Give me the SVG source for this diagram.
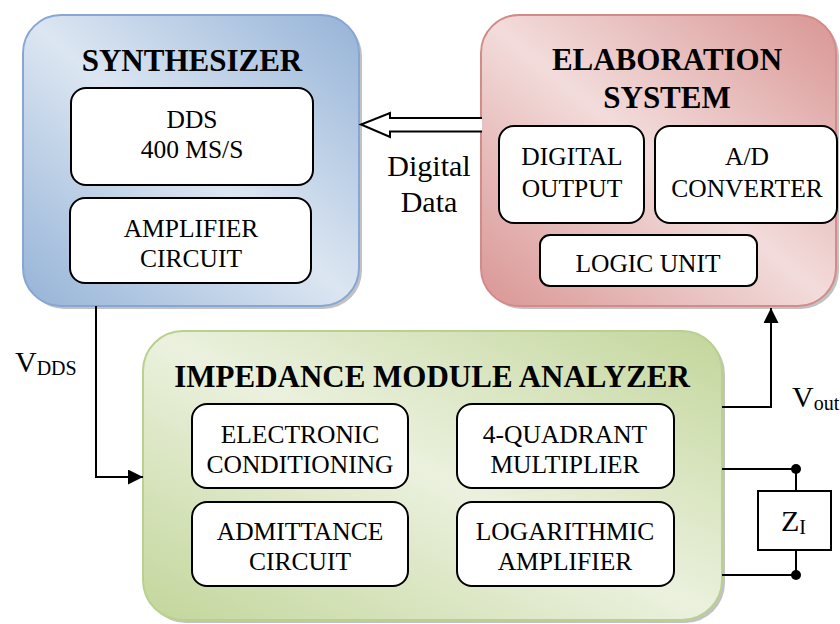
<svg xmlns="http://www.w3.org/2000/svg" width="840" height="624" viewBox="0 0 840 624">
<defs>
  <linearGradient id="gBlue" x1="1" y1="0" x2="0" y2="1">
    <stop offset="0" stop-color="#95b3d7"/>
    <stop offset="0.5" stop-color="#dce6f2"/>
    <stop offset="1" stop-color="#95b3d7"/>
  </linearGradient>
  <linearGradient id="gRed" x1="1" y1="0" x2="0" y2="1">
    <stop offset="0" stop-color="#d99694"/>
    <stop offset="0.5" stop-color="#f2dcdb"/>
    <stop offset="1" stop-color="#d99694"/>
  </linearGradient>
  <linearGradient id="gGreen" x1="1" y1="0" x2="0" y2="1">
    <stop offset="0" stop-color="#c3d69b"/>
    <stop offset="0.5" stop-color="#ebf1de"/>
    <stop offset="1" stop-color="#c3d69b"/>
  </linearGradient>
  <marker id="ah" viewBox="0 0 15 15" refX="15" refY="7.5" markerWidth="15" markerHeight="15" markerUnits="userSpaceOnUse" orient="auto">
    <path d="M0,0 L15,7.5 L0,15 Z" fill="#000"/>
  </marker>
</defs>

<g id="synthesizer">
  <rect x="26" y="18" width="336" height="291" rx="38" fill="#9a9a9a" opacity="0.6"/>
  <rect x="23" y="15" width="336" height="291" rx="38" fill="url(#gBlue)" stroke="#88a6d3" stroke-width="2"/>
  <text x="192" y="71" style="font-family:'Liberation Serif',serif;font-size:31px;font-weight:bold" text-anchor="middle">SYNTHESIZER</text>
  <rect x="71" y="88" width="242" height="97" rx="15" fill="#fff" stroke="#000" stroke-width="2"/>
  <rect x="70" y="198" width="241" height="85" rx="15" fill="#fff" stroke="#000" stroke-width="2"/>
  <text x="192" y="128" style="font-family:'Liberation Serif',serif;font-size:25.5px" text-anchor="middle">DDS</text>
  <text x="192" y="158" style="font-family:'Liberation Serif',serif;font-size:25.5px" text-anchor="middle">400 MS/S</text>
  <text x="191" y="237" style="font-family:'Liberation Serif',serif;font-size:25.5px" text-anchor="middle">AMPLIFIER</text>
  <text x="191" y="267" style="font-family:'Liberation Serif',serif;font-size:25.5px" text-anchor="middle">CIRCUIT</text>
</g>

<g id="elaboration-system">
  <rect x="484" y="18" width="355" height="291" rx="38" fill="#9a9a9a" opacity="0.6"/>
  <rect x="481" y="15" width="355" height="291" rx="38" fill="url(#gRed)" stroke="#d38b89" stroke-width="2"/>
  <text x="667" y="70" style="font-family:'Liberation Serif',serif;font-size:31px;font-weight:bold" text-anchor="middle">ELABORATION</text>
  <text x="667" y="108" style="font-family:'Liberation Serif',serif;font-size:31px;font-weight:bold" text-anchor="middle">SYSTEM</text>
  <rect x="499" y="126" width="145" height="97" rx="15" fill="#fff" stroke="#000" stroke-width="2"/>
  <rect x="655" y="126" width="182" height="97" rx="15" fill="#fff" stroke="#000" stroke-width="2"/>
  <rect x="540" y="235" width="217" height="51" rx="10" fill="#fff" stroke="#000" stroke-width="2"/>
  <text x="572" y="165" style="font-family:'Liberation Serif',serif;font-size:25.5px" text-anchor="middle">DIGITAL</text>
  <text x="572" y="197" style="font-family:'Liberation Serif',serif;font-size:25.5px" text-anchor="middle">OUTPUT</text>
  <text x="747" y="165" style="font-family:'Liberation Serif',serif;font-size:25.5px" text-anchor="middle">A/D</text>
  <text x="747" y="197" style="font-family:'Liberation Serif',serif;font-size:25.5px" text-anchor="middle">CONVERTER</text>
  <text x="648" y="272" style="font-family:'Liberation Serif',serif;font-size:25.5px" text-anchor="middle">LOGIC UNIT</text>
</g>

<g id="impedance-module-analyzer">
  <rect x="146" y="334" width="579" height="289" rx="40" fill="#9a9a9a" opacity="0.6"/>
  <rect x="143" y="331" width="579" height="289" rx="40" fill="url(#gGreen)" stroke="#b9d08f" stroke-width="2"/>
  <text x="432" y="387" style="font-family:'Liberation Serif',serif;font-size:31px;font-weight:bold" text-anchor="middle">IMPEDANCE MODULE ANALYZER</text>
  <rect x="192" y="404" width="216" height="84" rx="15" fill="#fff" stroke="#000" stroke-width="2"/>
  <rect x="192" y="502" width="216" height="84" rx="15" fill="#fff" stroke="#000" stroke-width="2"/>
  <rect x="457" y="404" width="217" height="84" rx="15" fill="#fff" stroke="#000" stroke-width="2"/>
  <rect x="457" y="502" width="217" height="84" rx="15" fill="#fff" stroke="#000" stroke-width="2"/>
  <text x="300" y="443" style="font-family:'Liberation Serif',serif;font-size:25.5px" text-anchor="middle">ELECTRONIC</text>
  <text x="300" y="473" style="font-family:'Liberation Serif',serif;font-size:25.5px" text-anchor="middle">CONDITIONING</text>
  <text x="300" y="540" style="font-family:'Liberation Serif',serif;font-size:25.5px" text-anchor="middle">ADMITTANCE</text>
  <text x="300" y="570" style="font-family:'Liberation Serif',serif;font-size:25.5px" text-anchor="middle">CIRCUIT</text>
  <text x="565" y="443" style="font-family:'Liberation Serif',serif;font-size:25.5px" text-anchor="middle">4-QUADRANT</text>
  <text x="565" y="473" style="font-family:'Liberation Serif',serif;font-size:25.5px" text-anchor="middle">MULTIPLIER</text>
  <text x="565" y="540" style="font-family:'Liberation Serif',serif;font-size:25.5px" text-anchor="middle">LOGARITHMIC</text>
  <text x="565" y="570" style="font-family:'Liberation Serif',serif;font-size:25.5px" text-anchor="middle">AMPLIFIER</text>
</g>

<g id="impedance-zi">
  <rect x="758" y="491" width="73" height="59" fill="#fff" stroke="#000" stroke-width="2"/>
  <text x="781" y="531" style="font-family:'Liberation Serif',serif;font-size:30px">Z<tspan style="font-size:20px" dy="3">I</tspan></text>
</g>

<g id="connectors">
  <path d="M482,118 L390,118 L390,113 L361,124.5 L390,137 L390,131.5 L482,131.5" fill="#fff" stroke="#000" stroke-width="2"/>
  <path d="M96,306 L96,477 L143,477" fill="none" stroke="#000" stroke-width="2" marker-end="url(#ah)"/>
  <path d="M722,407 L771,407 L771,308" fill="none" stroke="#000" stroke-width="2" marker-end="url(#ah)"/>
  <path d="M722,469 L796,469 L796,491" fill="none" stroke="#000" stroke-width="2"/>
  <path d="M722,575 L796,575 L796,550" fill="none" stroke="#000" stroke-width="2"/>
  <circle cx="796" cy="469" r="5" fill="#000"/>
  <circle cx="796" cy="575" r="5" fill="#000"/>
  <text x="429" y="176" style="font-family:'Liberation Serif',serif;font-size:30px" text-anchor="middle">Digital</text>
  <text x="429" y="212" style="font-family:'Liberation Serif',serif;font-size:30px" text-anchor="middle">Data</text>
  <text x="15" y="372" style="font-family:'Liberation Serif',serif;font-size:30px">V<tspan style="font-size:20px" dy="3">DDS</tspan></text>
  <text x="792" y="407" style="font-family:'Liberation Serif',serif;font-size:30px">V<tspan style="font-size:20px" dy="3">out</tspan></text>
</g>
</svg>
